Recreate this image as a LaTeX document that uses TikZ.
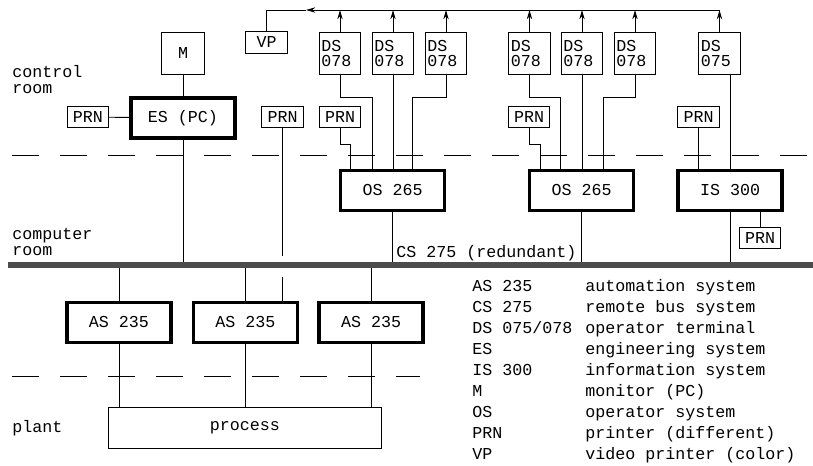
\documentclass[tikz,border=0pt]{standalone}
\usepackage{fontspec}
\setmainfont{Liberation Mono}
\usetikzlibrary{arrows.meta,calc}

\begin{document}
\begin{tikzpicture}[x=0.75pt, y=-0.75pt, line width=0.7pt,
  font=\fontsize{12.5}{12}\selectfont,
  box/.style={draw, inner sep=1pt},
  unit/.style={box, line width=2.6pt, minimum width=78pt, minimum height=30pt},
  prn/.style={box, minimum width=31pt, minimum height=16pt},
  mbox/.style={box, minimum width=32pt, minimum height=32pt},
  term/.style={box, line width=1pt, align=left, text width=28pt,
    minimum height=31.5pt, inner sep=1.6pt, font=\fontsize{12.5}{11.5}\selectfont},
  up/.style={-{Stealth[length=7pt,width=4pt]}},
  sep/.style={dash pattern=on 20pt off 16pt},
  bus/.style={line width=4.5pt, black!70},
  lbl/.style={inner sep=0pt, align=left}]
  \useasboundingbox (0,0) rectangle (813,466);

  % room borders
  \draw[sep] (12,155) -- (813,155);
  \draw[sep] (12,376) -- (420,376);

  \coordinate (top) at (0,10);
  \coordinate (arr) at (306,10);
  \coordinate (busL) at (8,265);
  \coordinate (busR) at (813,265);
  \coordinate (gapA) at (0,256);
  \coordinate (gapB) at (0,277);

  % control room
  \node[mbox] (mon) at (183,53.5) {M};
  \node[unit] (es) at (183,118) {ES (PC)};
  \node[prn] (prnes) at (88,117) {PRN};
  \node[prn] (vp) at (266.5,42.5) {VP};
  \foreach \n/\x in {d1/340, d2/393, d3/446, d4/529.5, d5/582, d6/635}
    \node[term] (\n) at (\x,53.5) {DS\\078};
  \node[term] (d7) at (719.5,53.5) {DS\\075};
  \node[prn] (p1) at (282.5,117) {PRN};
  \node[prn] (p2) at (340,117) {PRN};
  \node[prn] (p3) at (529,117) {PRN};
  \node[prn] (p4) at (698.5,117) {PRN};

  % computer room
  \node[unit] (os1) at (392.5,190.5) {OS 265};
  \node[unit] (os2) at (581.5,190.5) {OS 265};
  \node[unit] (is) at (730,190.5) {IS 300};
  \node[prn] (p5) at (760,238) {PRN};

  % plant
  \node[unit] (as1) at (119,322.5) {AS 235};
  \node[unit] (as2) at (245.5,322.5) {AS 235};
  \node[unit] (as3) at (371,322.5) {AS 235};
  \node[box, minimum width=205pt, minimum height=31pt] (proc) at (245,428) {process};

  % video printer line
  \draw[up] (d7.north |- top) -- (arr);
  \draw (arr) -| (vp.north);
  \foreach \n in {d1,d2,d3,d4,d5,d6,d7}
    \draw[up] (\n.north) -- (\n.north |- top);

  \draw (mon) -- (es);
  \draw (prnes) -- (es);
  \draw (es.south) -- (es.south |- busL);
  \draw (p1.south) -- (p1.south |- gapA);
  \draw (p1.south |- gapB) -- (p1.south |- as2.north);

  \draw (p2.south) -- ++(0,16) -| ($(os1.north)+(-42,0)$);
  \draw (d1.south) -- ++(0,22) -| ($(os1.north)+(-20,0)$);
  \draw (d2.south) -- (d2.south |- os1.north);
  \draw (d3.south) -- ++(0,22) -| ($(os1.north)+(20,0)$);
  \draw (os1.south) -- (os1.south |- busL);

  \draw (p3.south) -- ++(0,16) -| ($(os2.north)+(-41.5,0)$);
  \draw (d4.south) -- ++(0,22) -| ($(os2.north)+(-21.5,0)$);
  \draw (d5.south) -- (d5.south |- os2.north);
  \draw (d6.south) -- ++(0,22) -| ($(os2.north)+(21.5,0)$);
  \draw (os2.south) -- (os2.south |- busL);

  \draw (p4.south) -- (p4.south |- is.north);
  \draw (is.north) -- (is.north |- d7.south);
  \draw (is.south) -- (is.south |- busL);
  \draw (p5.north) -- (p5.north |- is.south);

  \foreach \n in {as1,as2,as3} {
    \draw (\n.north) -- (\n.north |- busL);
    \draw (\n.south) -- (\n.south |- proc.north);
  }

  \draw[bus] (busL) -- (busR);
  \node[lbl, anchor=base west] (cs) at (396,258) {CS 275 (redundant)};

  \node[lbl, anchor=north west] (ctrl) at (12,65) {control\\room};
  \node[lbl, anchor=north west] (comp) at (12,228) {computer\\room};
  \node[lbl, anchor=west] (plant) at (12,428) {plant};

  % legend
  \foreach \k/\v [count=\i from 0] in {AS 235/automation system,
      CS 275/remote bus system, {DS 075/078}/operator terminal,
      ES/engineering system, IS 300/information system, M/monitor (PC),
      OS/operator system, PRN/printer (different), VP/video printer (color)} {
    \node[lbl, anchor=base west] (key\i) at (472,292+20.9*\i) {\k};
    \node[lbl, anchor=base west] (val\i) at (585,292+20.9*\i) {\v};
  }
\end{tikzpicture}
\end{document}
